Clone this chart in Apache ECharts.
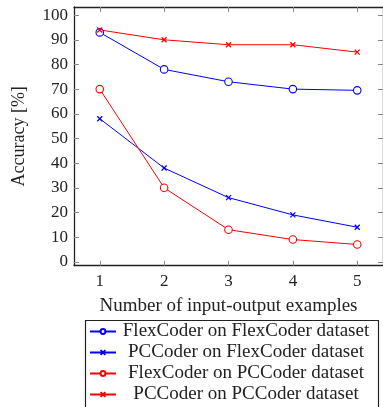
<!DOCTYPE html>
<html>
<head>
<meta charset="utf-8">
<script src="https://cdn.jsdelivr.net/npm/echarts@6/dist/echarts.min.js"></script>
<style>
  html, body { margin: 0; padding: 0; background: #fff; }
  #chart { width: 383px; height: 407px; }
</style>
</head>
<body>
<div id="chart"></div>
<script>
const examples = [1, 2, 3, 4, 5]
const yTicks = [0, 10, 20, 30, 40, 50, 60, 70, 80, 90, 100]

const flexOnFlex = [93, 78, 73, 70, 69.5]
const pcOnFlex = [58, 38, 26, 19, 14]
const flexOnPc = [70, 30, 13, 9, 7]
const pcOnPc = [94, 90, 88, 88, 85]

const FONT = 'Liberation Serif'
const CROSS = 'path://M0,0L10,10M10,0L0,10'
const RING = 'path://M10,5A5,5,0,1,1,0,5A5,5,0,1,1,10,5Z'

const pairs = vals => examples.map((x, i) => [x, vals[i]])

const makeSeries = (name, vals, color, marker) => ({
  name,
  type: 'line',
  data: pairs(vals),
  symbol: marker === 'o' ? RING : CROSS,
  symbolSize: marker === 'o' ? 7.5 : 5,
  showAllSymbol: true,
  lineStyle: { color, width: 1 },
  itemStyle: {
    color: marker === 'o' ? '#fff' : 'transparent',
    borderColor: color,
    borderWidth: marker === 'o' ? 1.1 : 1.3
  },
  emphasis: { disabled: true },
  z: 3
})

const frame = { show: true, onZero: false, lineStyle: { color: '#222', width: 1.3 } }
const tick = { show: true, inside: true, length: 5, lineStyle: { color: '#888', width: 1 } }

const chart = echarts.init(document.getElementById('chart'))
chart.setOption({
  animation: false,
  backgroundColor: '#fff',
  grid: { left: 74, right: -2, top: 7, height: 258.7 },
  xAxis: [
    {
      type: 'value', min: 0.6, max: 5.4, position: 'bottom',
      axisLine: frame,
      axisTick: { ...tick, customValues: examples },
      axisLabel: { customValues: examples, margin: 7, color: '#222', fontFamily: FONT, fontSize: 17 },
      splitLine: { show: false },
      name: 'Number of input-output examples',
      nameLocation: 'middle', nameGap: 31,
      nameTextStyle: { color: '#222', fontFamily: FONT, fontSize: 19 }
    },
    {
      type: 'value', min: 0.6, max: 5.4, position: 'top',
      axisLine: frame,
      axisTick: { ...tick, customValues: examples },
      axisLabel: { show: false },
      splitLine: { show: false }
    }
  ],
  yAxis: [
    {
      type: 'value', min: -1.6, max: 103.3, position: 'left',
      axisLine: frame,
      axisTick: { ...tick, customValues: yTicks },
      axisLabel: { customValues: yTicks, margin: 6, color: '#222', fontFamily: FONT, fontSize: 17 },
      splitLine: { show: false },
      name: 'Accuracy [%]',
      nameLocation: 'middle', nameGap: 46,
      nameTextStyle: { color: '#222', fontFamily: FONT, fontSize: 18 }
    },
    {
      type: 'value', min: -1.6, max: 103.3, position: 'right',
      axisLine: frame,
      axisTick: { ...tick, customValues: yTicks },
      axisLabel: { show: false },
      splitLine: { show: false }
    }
  ],
  graphic: [{
    type: 'rect', left: 83, top: 318,
    shape: { width: 293, height: 100 },
    style: { fill: 'none', stroke: '#222', lineWidth: 1.2 },
    silent: true
  }],
  legend: {
    orient: 'vertical',
    left: 83, top: 322,
    padding: [0, 6, 0, 6],
    itemGap: 2,
    itemWidth: 26, itemHeight: 6,
    selectedMode: false,
    formatter: name => '{t|' + name + '}',
    textStyle: {
      color: '#222', fontFamily: FONT, fontSize: 19,
      rich: { t: { width: 250, align: 'center', fontFamily: FONT, fontSize: 19, color: '#222' } }
    }
  },
  series: [
    makeSeries('FlexCoder on FlexCoder dataset', flexOnFlex, '#0000ff', 'o'),
    makeSeries('PCCoder on FlexCoder dataset', pcOnFlex, '#0000ff', 'x'),
    makeSeries('FlexCoder on PCCoder dataset', flexOnPc, '#ff0000', 'o'),
    makeSeries('PCCoder on PCCoder dataset', pcOnPc, '#ff0000', 'x')
  ]
})
</script>
</body>
</html>
